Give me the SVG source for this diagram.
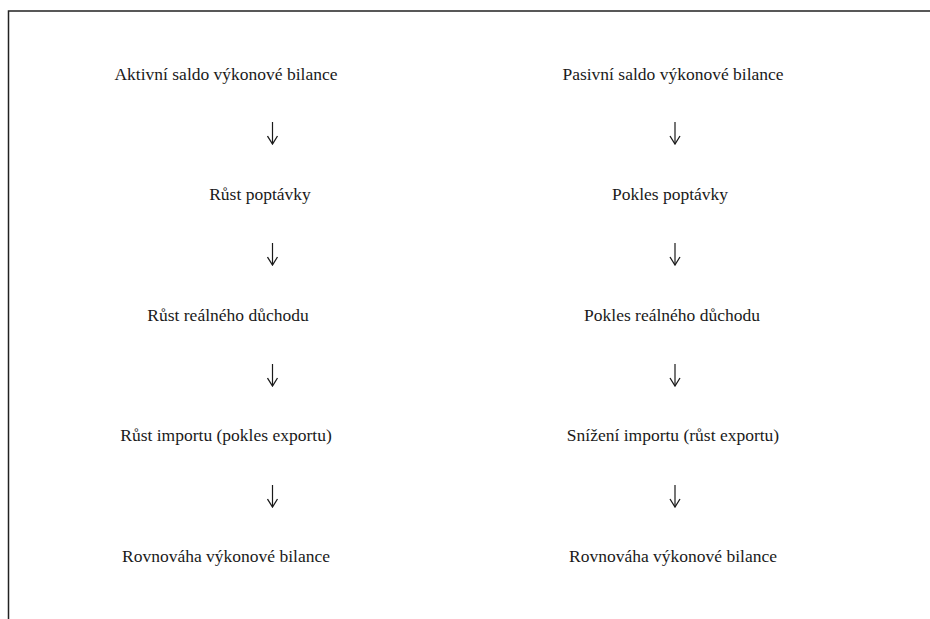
<svg xmlns="http://www.w3.org/2000/svg" width="930" height="619" viewBox="0 0 930 619">
<defs>
<style>
.t{font-family:"Liberation Serif","DejaVu Serif",serif;font-size:17.5px;fill:#1a1a1a;text-anchor:middle}
.c{stroke:#1a1a1a;stroke-width:1.2;fill:none}
</style>
<marker id="ah" viewBox="0 0 10 12" refX="9" refY="6" markerWidth="10" markerHeight="12" markerUnits="userSpaceOnUse" orient="auto">
<path d="M1,1 L9,6 L1,11" fill="none" stroke="#1a1a1a" stroke-width="1.3"/>
</marker>
</defs>
<rect width="930" height="619" fill="#fff"/>
<path d="M8.5,619 V11 H930" fill="none" stroke="#222" stroke-width="1.5"/>
<g id="connectors">
<path class="c" d="M272.5,122 V144" marker-end="url(#ah)"/>
<path class="c" d="M272.5,243 V265" marker-end="url(#ah)"/>
<path class="c" d="M272.5,364 V386" marker-end="url(#ah)"/>
<path class="c" d="M272.5,485 V507" marker-end="url(#ah)"/>
<path class="c" d="M675,122 V144" marker-end="url(#ah)"/>
<path class="c" d="M675,243 V265" marker-end="url(#ah)"/>
<path class="c" d="M675,364 V386" marker-end="url(#ah)"/>
<path class="c" d="M675,485 V507" marker-end="url(#ah)"/>
</g>
<g id="n-l1"><text class="t" x="226" y="80">Aktivní saldo výkonové bilance</text></g>
<g id="n-l2"><text class="t" x="260" y="200">Růst poptávky</text></g>
<g id="n-l3"><text class="t" x="228" y="321">Růst reálného důchodu</text></g>
<g id="n-l4"><text class="t" x="226" y="441">Růst importu (pokles exportu)</text></g>
<g id="n-l5"><text class="t" x="226" y="562">Rovnováha výkonové bilance</text></g>
<g id="n-r1"><text class="t" x="673" y="80">Pasivní saldo výkonové bilance</text></g>
<g id="n-r2"><text class="t" x="670" y="200">Pokles poptávky</text></g>
<g id="n-r3"><text class="t" x="672" y="321">Pokles reálného důchodu</text></g>
<g id="n-r4"><text class="t" x="673" y="441">Snížení importu (růst exportu)</text></g>
<g id="n-r5"><text class="t" x="673" y="562">Rovnováha výkonové bilance</text></g>
</svg>
